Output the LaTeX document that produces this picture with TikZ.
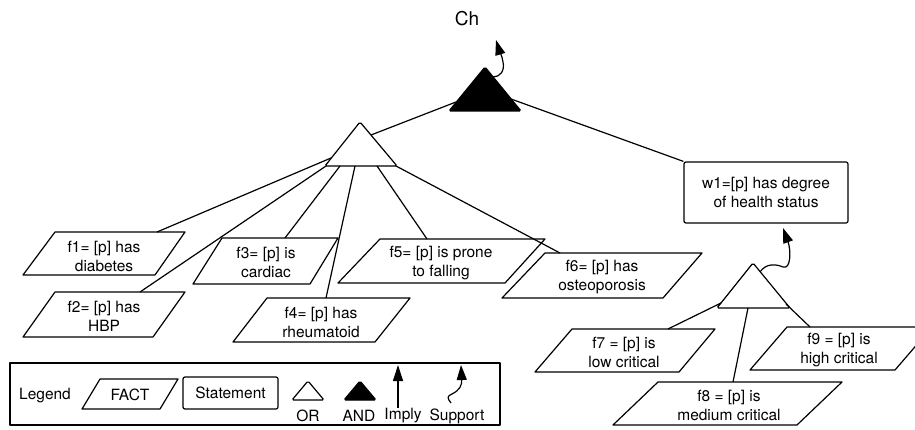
\documentclass[tikz,border=0pt]{standalone}
\usepackage{fontspec}
\setmainfont{TeX Gyre Heros}
\usetikzlibrary{arrows.meta}
\begin{document}
\begin{tikzpicture}[x=1pt,y=-1pt,line width=1.2pt,
  outline/.style={draw=black,line width=1.2pt,line join=round},
  link/.style={draw=black,line width=1.2pt},
  orgate/.style={draw=black,fill=white,line width=1.2pt,rounded corners=1.5pt},
  andgate/.style={draw=black,fill=black,line width=1.2pt,rounded corners=1.5pt},
  txt/.style={font=\fontsize{15.5}{19}\selectfont,align=center,inner sep=0pt},
  stmtbox/.style={draw=black,line width=1.2pt,rounded corners=2pt,txt},
  supportarrow/.style={draw=black,line width=1.2pt,-{Triangle[length=15pt,width=10pt]}},
  implyarrow/.style={draw=black,line width=1.2pt,-{Triangle[length=16pt,width=10pt]}},
]
\useasboundingbox (0,0) rectangle (915,430);

% ---------- top goal ----------
\node[font=\fontsize{19}{22}\selectfont,inner sep=0pt] (ch) at (467,19) {Ch};
\path[andgate] (485,67) -- (521,111) -- (449,111) -- cycle;
\coordinate (and-ch) at (493,77);
\coordinate (and-l) at (456,102);
\coordinate (and-r) at (511,99);
\coordinate (ch-tip) at (496,40);
\draw[supportarrow] (and-ch) .. controls (500,77) and (505,71) .. (503,62)
      .. controls (502,55) and (499,50) .. (ch-tip);

% ---------- first OR gate ----------
\path[orgate] (360,122) -- (397,166) -- (325,166) -- cycle;
\coordinate (or1-in) at (371,135);
\coordinate (or1-a) at (331,158);
\coordinate (or1-b) at (326,166);
\coordinate (or1-c) at (340,166);
\coordinate (or1-d) at (355,166);
\coordinate (or1-e) at (377,166);
\coordinate (or1-f) at (396,166);
\draw[link] (and-l) -- (or1-in);

% ---------- statement w1 ----------
\node[stmtbox,minimum width=164pt,minimum height=61pt] (w1) at (766,192.5)
  {w1=[p] has degree\\of health status};
\draw[link] (and-r) -- (w1.north west);

% ---------- facts under the first OR gate ----------
\draw[outline] (55,232) -- (185,232) -- (155,275) -- (23,275) -- cycle;
\node[txt] (f1) at (104,256.5) {f1= [p] has\\diabetes};
\coordinate (f1-top) at (157,232);

\draw[outline] (55,292) -- (185,292) -- (153,337) -- (23,337) -- cycle;
\node[txt] (f2) at (104,316) {f2= [p] has\\HBP};
\coordinate (f2-top) at (140,292);

\draw[outline] (222,238) -- (338,238) -- (310,284) -- (193,284) -- cycle;
\node[txt] (f3) at (266,262) {f3= [p] is\\cardiac};
\coordinate (f3-top) at (285,238);

\draw[outline] (267,298) -- (410,298) -- (375,342) -- (233,342) -- cycle;
\node[txt] (f4) at (321,322.5) {f4= [p] has\\rheumatoid};
\coordinate (f4-top) at (326,298);

\draw[outline] (380,239) -- (545,239) -- (505,283) -- (338,283) -- cycle;
\node[txt] (f5) at (441,263.5) {f5= [p] is prone\\to falling};
\coordinate (f5-top) at (427,239);

\draw[outline] (545,253) -- (702,253) -- (663,298) -- (502,298) -- cycle;
\node[txt] (f6) at (602,277.5) {f6= [p] has\\osteoporosis};
\coordinate (f6-top) at (560,253);

\draw[link] (or1-a) -- (f1-top);
\draw[link] (or1-b) -- (f2-top);
\draw[link] (or1-c) -- (f3-top);
\draw[link] (or1-d) -- (f4-top);
\draw[link] (or1-e) -- (f5-top);
\draw[link] (or1-f) -- (f6-top);

% ---------- second OR gate ----------
\path[orgate] (753,263) -- (790,308) -- (717,308) -- cycle;
\coordinate (or2-up) at (760,272);
\coordinate (or2-a) at (721,303);
\coordinate (or2-b) at (748,308);
\coordinate (or2-c) at (786,304);
\coordinate (w1-tip) at (783,228);
\draw[supportarrow] (or2-up) .. controls (766,263) and (776,264) .. (783,267)
      .. controls (791,270) and (791,250) .. (w1-tip);

\draw[outline] (572,329) -- (715,329) -- (679,372) -- (535,372) -- cycle;
\node[txt] (f7) at (624,352) {f7 = [p] is\\low critical};
\coordinate (f7-top) at (668,329);

\draw[outline] (658,382) -- (842,382) -- (797,425) -- (613,425) -- cycle;
\node[txt] (f8) at (729,405) {f8 = [p] is\\medium critical};
\coordinate (f8-top) at (733,382);

\draw[outline] (787,327) -- (932,327) -- (895,370) -- (750,370) -- cycle;
\node[txt] (f9) at (839,350) {f9 = [p] is\\high critical};
\coordinate (f9-top) at (810,327);

\draw[link] (or2-a) -- (f7-top);
\draw[link] (or2-b) -- (f8-top);
\draw[link] (or2-c) -- (f9-top);

% ---------- legend ----------
\draw[outline] (10,363) rectangle (500,425);
\node[txt] (lg) at (45,396) {Legend};
\draw[outline] (100,379) -- (178,379) -- (160,409) -- (82,409) -- cycle;
\node[txt] (lg-fact) at (130,395) {FACT};
\node[stmtbox,minimum width=95pt,minimum height=32pt] (lg-stmt) at (230.5,393) {Statement};
\path[orgate] (308,381) -- (324,400) -- (292,400) -- cycle;
\node[txt] (lg-or) at (308,416) {OR};
\path[andgate] (360,381) -- (376,400) -- (344,400) -- cycle;
\node[txt] (lg-and) at (359,416) {AND};
\node[txt] (lg-imply) at (403,416) {Imply};
\coordinate (imp-a) at (398,408);
\coordinate (imp-b) at (398,365);
\draw[implyarrow] (imp-a) -- (imp-b);
\node[txt] (lg-sup) at (457,416) {Support};
\coordinate (sup-a) at (451,403);
\coordinate (sup-b) at (461,365);
\draw[supportarrow] (sup-a) .. controls (447,398) and (447,396) .. (452,394)
      .. controls (460,390) and (462,385) .. (sup-b);
\end{tikzpicture}
\end{document}
